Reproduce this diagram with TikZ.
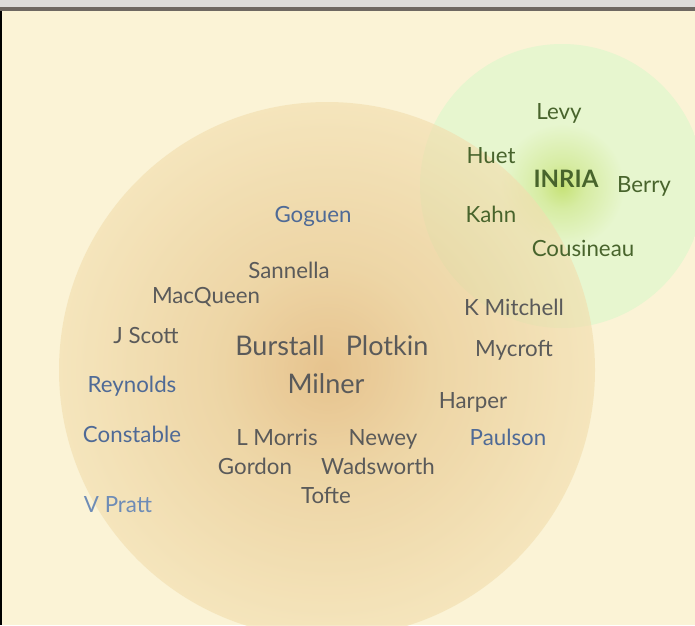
\documentclass[tikz,border=0pt]{standalone}
\usepackage{fontspec}
\setmainfont{Lato}
\definecolor{PaperCream}{RGB}{251,243,214}
\definecolor{BarGray}{RGB}{221,220,218}
\definecolor{BarDark}{RGB}{110,104,98}
\definecolor{NameGray}{RGB}{90,90,90}
\definecolor{NameBlue}{RGB}{79,106,150}
\definecolor{PaleBlue}{RGB}{110,140,182}
\definecolor{InriaGreen}{RGB}{72,100,44}
\definecolor{EdinCore}{RGB}{220,170,104}
\definecolor{EdinMid}{RGB}{231,198,140}
\definecolor{EdinRim}{RGB}{242,222,175}
\definecolor{InriaCore}{RGB}{198,226,118}
\definecolor{InriaRim}{RGB}{231,246,207}
\pgfdeclareradialshading{edinglow}{\pgfpoint{0bp}{0bp}}{%
  color(0bp)=(EdinCore); color(10bp)=(EdinMid); color(25bp)=(EdinRim); color(50bp)=(EdinRim)}
\pgfdeclareradialshading{inriaglow}{\pgfpoint{0bp}{0bp}}{%
  color(0bp)=(InriaCore); color(4bp)=(InriaCore!50!InriaRim); color(11bp)=(InriaRim); color(50bp)=(InriaRim)}

\begin{document}
\begin{tikzpicture}[
    x=1pt, y=-1pt,
    who/.style={inner sep=0pt, anchor=base, font=\fontsize{22.3}{26}\selectfont, text=NameGray},
    chief/.style={who, font=\fontsize{27}{32}\selectfont},
    visitor/.style={who, text=NameBlue},
    inria/.style={who, text=InriaGreen}
  ]
    \useasboundingbox (0,0) rectangle (695,625);
    \fill[PaperCream] (0,0) rectangle (695,625);

    % the two groups
    \shade[shading=inriaglow] (562,186) circle[radius=142];
    \shade[shading=edinglow, fill opacity=0.65] (327,370) circle[radius=268];

    % window frame
    \fill[BarGray] (0,0) rectangle (695,7.3);
    \fill[BarDark] (0,7.3) rectangle (695,11.3);
    \fill[black] (0,11.3) rectangle (2,625);

    % INRIA
    \node[inria, font=\fontsize{24}{28}\selectfont\bfseries] (inria) at (566,187) {INRIA};
    \node[inria] (levy) at (559,119) {Levy};
    \node[inria] (huet) at (491,163) {Huet};
    \node[inria] (berry) at (644,192) {Berry};
    \node[inria] (kahn) at (491,222) {Kahn};
    \node[inria] (cousineau) at (583,256) {Cousineau};

    % Edinburgh
    \node[chief] (burstall) at (280,355) {Burstall};
    \node[chief] (plotkin) at (387,355) {Plotkin};
    \node[chief] (milner) at (326,393) {Milner};
    \node[visitor] (goguen) at (313,222) {Goguen};
    \node[who] (sannella) at (289,278) {Sannella};
    \node[who] (macqueen) at (206,303) {MacQueen};
    \node[who] (kmitchell) at (514,315) {K Mitchell};
    \node[who] (jscott) at (146,343) {J Scott};
    \node[who] (mycroft) at (514,356) {Mycroft};
    \node[visitor] (reynolds) at (132,392) {Reynolds};
    \node[who] (harper) at (473,408) {Harper};
    \node[visitor] (constable) at (132,442) {Constable};
    \node[who] (lmorris) at (277,445) {L Morris};
    \node[who] (newey) at (383,445) {Newey};
    \node[visitor] (paulson) at (508,445) {Paulson};
    \node[who] (gordon) at (255,474) {Gordon};
    \node[who] (wadsworth) at (378,474) {Wadsworth};
    \node[who] (tofte) at (326,503) {Tofte};
    \node[who, text=PaleBlue] (vpratt) at (118,512) {V Pratt};
  \end{tikzpicture}
\end{document}
